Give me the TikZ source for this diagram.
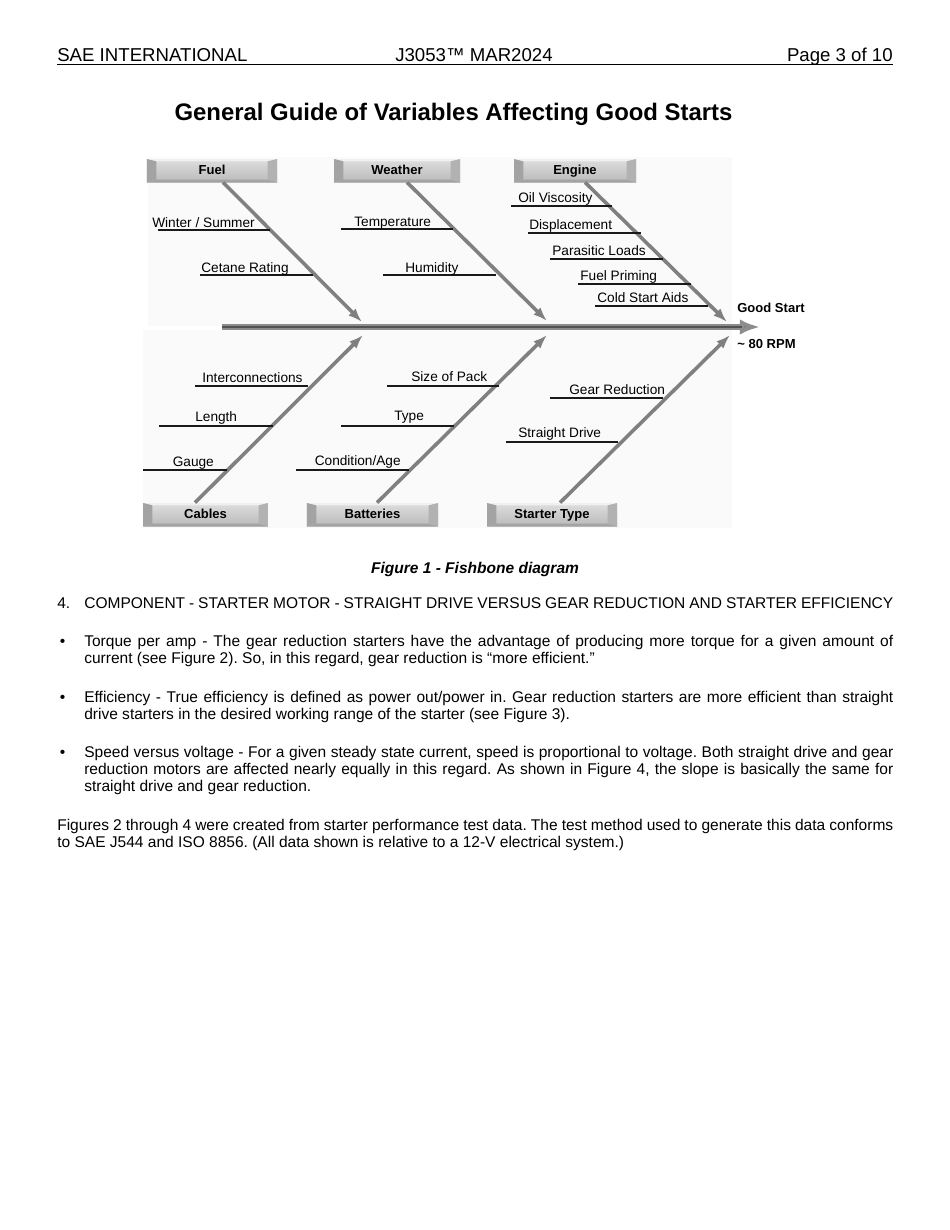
\documentclass[tikz,border=0pt]{standalone}
\usepackage{fontspec}
\setmainfont{Liberation Sans}
\usetikzlibrary{arrows.meta,calc}
\newdimen\pxu \pxu=0.644211pt
\begin{document}
\frenchspacing
\begin{tikzpicture}[x=0.644211pt,y=-0.644211pt,
  txt/.style={anchor=base west,inner sep=0pt,font=\fontsize{10}{12}\selectfont},
  lbl/.style={anchor=base west,inner sep=0pt,font=\fontsize{8.8}{10}\selectfont},
  catbox/.style={rectangle,inner sep=0pt,minimum height=14.82pt,
    text height=6.2pt,text depth=1.6pt,
    top color=black!13,bottom color=black!27,
    font=\bfseries\fontsize{8.4}{10}\selectfont,
    path picture={
      \fill[black!6] (path picture bounding box.north west) -- (path picture bounding box.north east)
        -- ([xshift=-6pt,yshift=-1.5pt]path picture bounding box.north east)
        -- ([xshift=6pt,yshift=-1.5pt]path picture bounding box.north west) -- cycle;
      \fill[black!36] (path picture bounding box.south west) -- (path picture bounding box.south east)
        -- ([xshift=-6pt,yshift=1.5pt]path picture bounding box.south east)
        -- ([xshift=6pt,yshift=1.5pt]path picture bounding box.south west) -- cycle;
      \fill[black!36] (path picture bounding box.north west) -- (path picture bounding box.south west)
        -- ([xshift=6pt,yshift=1.5pt]path picture bounding box.south west)
        -- ([xshift=6pt,yshift=-1.5pt]path picture bounding box.north west) -- cycle;
      \fill[black!30] (path picture bounding box.north east) -- (path picture bounding box.south east)
        -- ([xshift=-6pt,yshift=1.5pt]path picture bounding box.south east)
        -- ([xshift=-6pt,yshift=-1.5pt]path picture bounding box.north east) -- cycle;
    }},
  bone/.style={draw=black!50,line width=2.3pt,-{Latex[length=9pt,width=6.5pt,fill=black!58]}},
  sub/.style={draw=black!90,line width=1.1pt},
  bld/.style={anchor=base west,inner sep=0pt,font=\bfseries\fontsize{8.4}{10}\selectfont}
]
\useasboundingbox (0,0) rectangle (950,1230);
\fill[white] (0,0) rectangle (950,1230);

% ---------- header ----------
\node[anchor=base west,inner sep=0pt,font=\fontsize{12}{14}\selectfont] (hl) at (57,61) {SAE INTERNATIONAL};
\node[anchor=base,inner sep=0pt,font=\fontsize{12}{14}\selectfont] (hc) at (474,61) {J3053™ MAR2024};
\node[anchor=base east,inner sep=0pt,font=\fontsize{12}{14}\selectfont] (hr) at (893,61) {Page 3 of 10};
\coordinate (rl) at (57,64.5);
\coordinate (rr) at (893,64.5);
\draw[line width=0.75pt] (rl) -- (rr);

% ---------- fishbone ----------
\fill[black!2] (148,157) rectangle (732,326);
\fill[black!2] (143,330) rectangle (732,528);

\node[anchor=base,inner sep=0pt,font=\bfseries\fontsize{15.4}{18}\selectfont] (title) at (453.5,120)
  {General Guide of Variables Affecting Good Starts};

% spine
\coordinate (sp0) at (222,327);
\coordinate (sp1) at (760,327);
\coordinate (sp2) at (742,327);
\draw[draw=black!45,line width=4pt,-{Latex[length=13pt,width=10pt,fill=black!55]}] (sp0) -- (sp1);
\draw[draw=black!68,line width=1.4pt] (sp0) -- (sp2);
\node[bld] (gs) at (737,312) {Good Start};
\node[bld] (rpm) at (737,348) {\char"7E\ 80 RPM};

% category boxes
\node[catbox,minimum width=83.75pt] (fuel) at (212,170.5) {Fuel};
\node[catbox,minimum width=81.17pt] (weather) at (397,170.5) {Weather};
\node[catbox,minimum width=78.6pt] (engine) at (575,170.5) {Engine};
\node[catbox,minimum width=80.5pt] (cables) at (205.5,514.5) {Cables};
\node[catbox,minimum width=84.4pt] (batteries) at (372.5,514.5) {Batteries};
\node[catbox,minimum width=83.75pt] (starter) at (552,514.5) {Starter Type};

% bone tips
\coordinate (tFuel) at (362,322);
\coordinate (tWeather) at (547,321);
\coordinate (tEngine) at (727,322);
\coordinate (tCables) at (363,335);
\coordinate (tBatteries) at (547,335);
\coordinate (tStarter) at (730,335);

\draw[bone] ($(fuel.south)+(11,0)$) -- (tFuel);
\draw[bone] ($(weather.south)+(10,0)$) -- (tWeather);
\draw[bone] ($(engine.south)+(10,0)$) -- (tEngine);
\draw[bone] ($(cables.north)+(-10.5,0)$) -- (tCables);
\draw[bone] ($(batteries.north)+(4.5,0)$) -- (tBatteries);
\draw[bone] ($(starter.north)+(8,0)$) -- (tStarter);

% sub-bones: Fuel
\draw[sub] (158,230) -- (270,230);
\node[lbl] (l1) at (152,227.5) {Winter / Summer};
\draw[sub] (200,275) -- (313,275);
\node[lbl] (l2) at (201,272) {Cetane Rating};
% Weather
\draw[sub] (341,229) -- (453,229);
\node[lbl] (l3) at (354,226) {Temperature};
\draw[sub] (383,275) -- (496,275);
\node[lbl] (l4) at (405,272) {Humidity};
% Engine
\draw[sub] (511,206) -- (612,206);
\node[lbl] (l5) at (518,202) {Oil Viscosity};
\draw[sub] (528,233) -- (641,233);
\node[lbl] (l6) at (529,229.5) {Displacement};
\draw[sub] (550,259) -- (663,259);
\node[lbl] (l7) at (552,255) {Parasitic Loads};
\draw[sub] (578,284) -- (691,284);
\node[lbl] (l8) at (580,280.5) {Fuel Priming};
\draw[sub] (595,306) -- (708,306);
\node[lbl] (l9) at (597,302.5) {Cold Start Aids};
% Cables
\draw[sub] (195,386) -- (308,386);
\node[lbl] (l10) at (202,382) {Interconnections};
\draw[sub] (159,426) -- (273,426);
\node[lbl] (l11) at (195,421.5) {Length};
\draw[sub] (143,470) -- (227,470);
\node[lbl] (l12) at (172.5,466) {Gauge};
% Batteries
\draw[sub] (387,386) -- (499,386);
\node[lbl] (l13) at (411,381.5) {Size of Pack};
\draw[sub] (341,426) -- (454,426);
\node[lbl] (l14) at (394,420.5) {Type};
\draw[sub] (296,470) -- (409,470);
\node[lbl] (l15) at (314.5,465) {Condition/Age};
% Starter type
\draw[sub] (550,398) -- (663,398);
\node[lbl] (l16) at (569,394.5) {Gear Reduction};
\draw[sub] (506,442) -- (618,442);
\node[lbl] (l17) at (518,437.5) {Straight Drive};

% ---------- caption ----------
\node[anchor=base,inner sep=0pt,font=\bfseries\itshape\fontsize{10}{12}\selectfont] (cap) at (475,573)
  {Figure 1 - Fishbone diagram};

% ---------- body ----------
\node[txt] (s4) at (57,608) {4.};
\node[txt] (s4t) at (84,608) {\makebox[809\pxu][s]{COMPONENT - STARTER MOTOR - STRAIGHT DRIVE VERSUS GEAR REDUCTION AND STARTER EFFICIENCY}};

\node[txt] (bu1) at (59.5,646) {\textbullet};
\node[txt] (b1a) at (84,646) {\makebox[809\pxu][s]{Torque per amp - The gear reduction starters have the advantage of producing more torque for a given amount of}};
\node[txt] (b1b) at (84,663) {current (see Figure 2). So, in this regard, gear reduction is “more efficient.”};

\node[txt] (bu2) at (59.5,702) {\textbullet};
\node[txt] (b2a) at (84,702) {\makebox[809\pxu][s]{Efficiency - True efficiency is defined as power out/power in. Gear reduction starters are more efficient than straight}};
\node[txt] (b2b) at (84,719) {drive starters in the desired working range of the starter (see Figure 3).};

\node[txt] (bu3) at (59.5,757) {\textbullet};
\node[txt] (b3a) at (84,757) {\makebox[809\pxu][s]{Speed versus voltage - For a given steady state current, speed is proportional to voltage. Both straight drive and gear}};
\node[txt] (b3b) at (84,774) {\makebox[809\pxu][s]{reduction motors are affected nearly equally in this regard. As shown in Figure 4, the slope is basically the same for}};
\node[txt] (b3c) at (84,791) {straight drive and gear reduction.};

\node[txt] (p1) at (57,830) {\makebox[836\pxu][s]{Figures 2 through 4 were created from starter performance test data. The test method used to generate this data conforms}};
\node[txt] (p2) at (57,847) {to SAE J544 and ISO 8856. (All data shown is relative to a 12-V electrical system.)};
\end{tikzpicture}
\end{document}
